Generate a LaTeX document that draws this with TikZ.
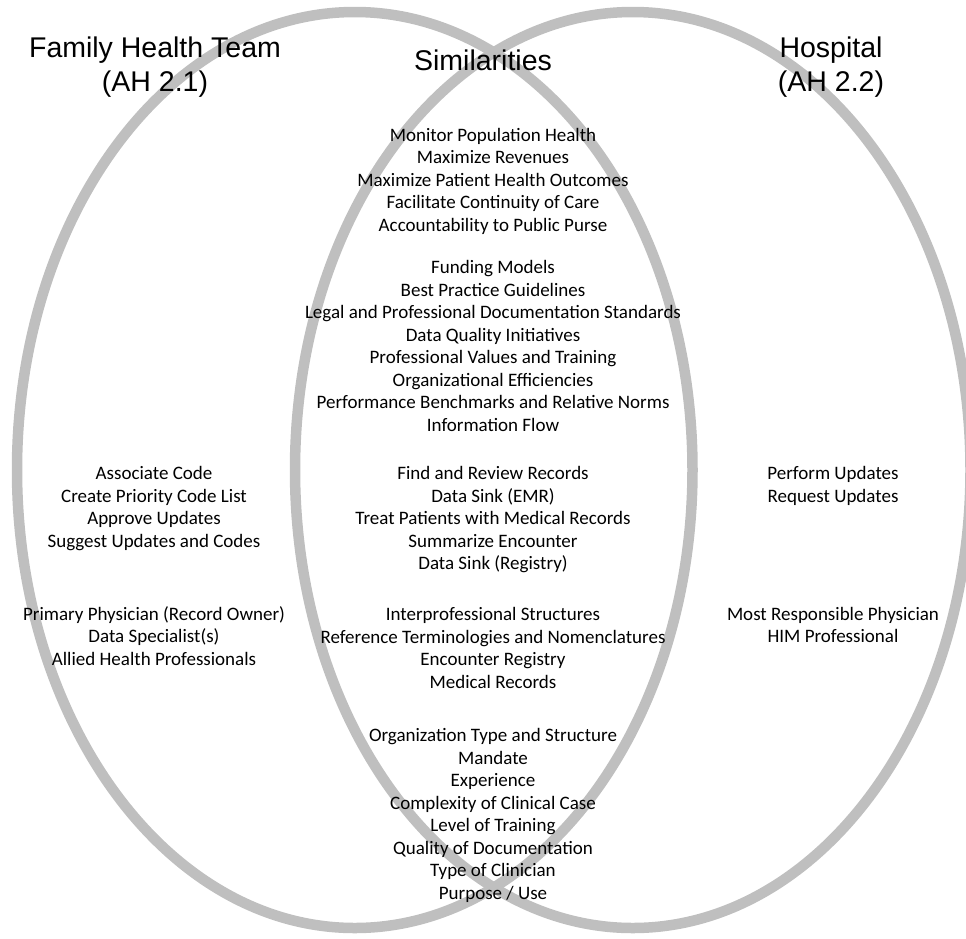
\documentclass[tikz,border=0pt]{standalone}
\usepackage{fontspec}
\setmainfont{Carlito}
\newfontfamily\headfont{Liberation Sans}
\definecolor{ringgray}{RGB}{191,191,191}
\begin{document}
\begin{tikzpicture}[x=1pt,y=-1pt,
  ring/.style={draw=ringgray,line width=10.5pt},
  head/.style={font=\headfont\fontsize{28.5}{34}\selectfont,align=center,inner sep=0pt},
  items/.style={font=\fontsize{19}{22.5}\selectfont,align=center,inner sep=0pt}]
\useasboundingbox (0,0) rectangle (966,938);
% the two overlapping sets
\draw[ring] (354.75,470) ellipse [x radius=337.75pt, y radius=458pt];
\draw[ring] (632.75,470) ellipse [x radius=337.75pt, y radius=458pt];
% headings
\node[head] (fht) at (155,67.5) {Family Health Team\\(AH 2.1)};
\node[head] (sim) at (483,60) {Similarities};
\node[head] (hosp) at (831,67.5) {Hospital\\(AH 2.2)};
% shared elements
\node[items] (goals) at (493,181) {Monitor Population Health\\Maximize Revenues\\Maximize Patient Health Outcomes\\Facilitate Continuity of Care\\Accountability to Public Purse};
\node[items] (context) at (493,346) {Funding Models\\Best Practice Guidelines\\Legal and Professional Documentation Standards\\Data Quality Initiatives\\Professional Values and Training\\Organizational Efficiencies\\Performance Benchmarks and Relative Norms\\Information Flow};
\node[items] (tasks) at (493,520) {Find and Review Records\\Data Sink (EMR)\\Treat Patients with Medical Records\\Summarize Encounter\\Data Sink (Registry)};
\node[items] (structures) at (493,648) {Interprofessional Structures\\Reference Terminologies and Nomenclatures\\Encounter Registry\\Medical Records};
\node[items] (factors) at (493,815.5) {Organization Type and Structure\\Mandate\\Experience\\Complexity of Clinical Case\\Level of Training\\Quality of Documentation\\Type of Clinician\\Purpose / Use};
% family health team only
\node[items] (fhttasks) at (154,508.5) {Associate Code\\Create Priority Code List\\Approve Updates\\Suggest Updates and Codes};
\node[items] (fhtroles) at (154,636) {Primary Physician (Record Owner)\\Data Specialist(s)\\Allied Health Professionals};
% hospital only
\node[items] (hosptasks) at (833,486) {Perform Updates\\Request Updates};
\node[items] (hosproles) at (833,625) {Most Responsible Physician\\HIM Professional};
\end{tikzpicture}
\end{document}
